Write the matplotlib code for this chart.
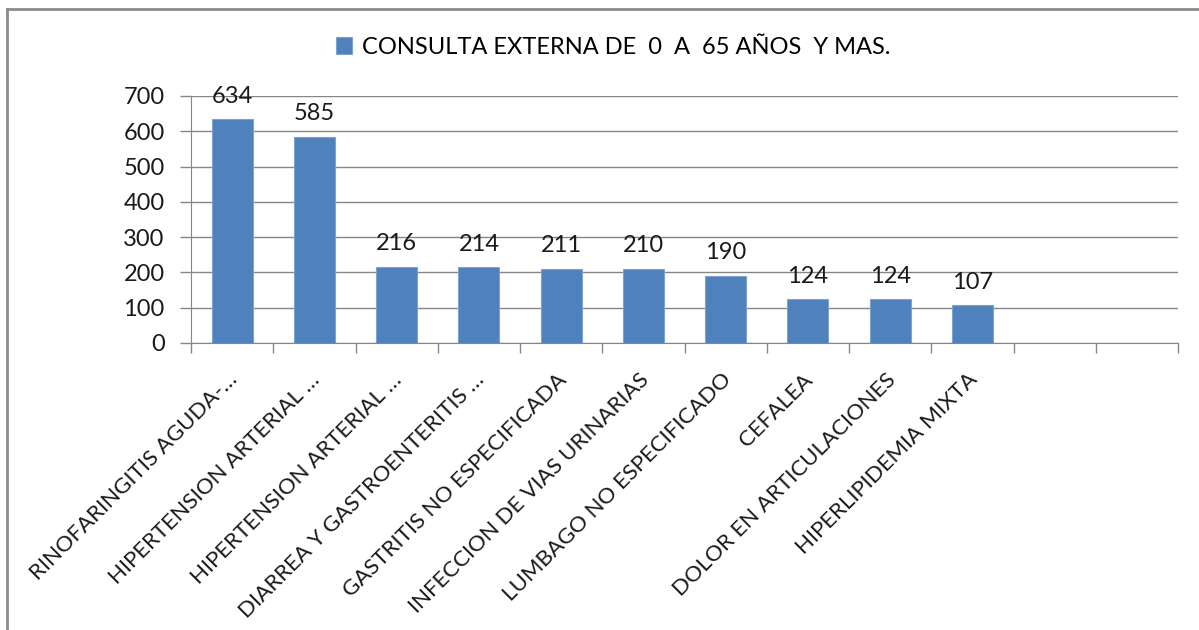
import numpy as np
import matplotlib
matplotlib.use("Agg")
import matplotlib.pyplot as plt
import matplotlib.transforms as mtransforms
from matplotlib.lines import Line2D

plt.rcParams['font.family'] = ['Lato', 'DejaVu Sans']

# datos
categorias = [
    "RINOFARINGITIS AGUDA-…",
    "HIPERTENSION ARTERIAL …",
    "HIPERTENSION ARTERIAL …",
    "DIARREA Y GASTROENTERITIS …",
    "GASTRITIS NO ESPECIFICADA",
    "INFECCION DE VIAS URINARIAS",
    "LUMBAGO NO ESPECIFICADO",
    "CEFALEA",
    "DOLOR EN ARTICULACIONES",
    "HIPERLIPIDEMIA MIXTA",
    "",
    "",
]
valores = [634, 585, 216, 214, 211, 210, 190, 124, 124, 107]
serie = "CONSULTA EXTERNA DE  0  A  65 AÑOS  Y MAS."
y_ticks = [0, 100, 200, 300, 400, 500, 600, 700]

azul = "#4F81BD"
gris = "#868686"
texto = "#1a1a1a"
fs = 17

fig = plt.figure(figsize=(11.99, 6.30), dpi=100)
ax = fig.add_axes([191 / 1199, 1 - 343 / 630, (1178 - 191) / 1199, (343 - 96) / 630])

x = np.arange(len(valores))
barras = ax.bar(x, valores, width=0.5, color=azul, edgecolor="#7ea3d0",
                linewidth=0.8, label=serie, zorder=3)

# etiquetas de datos
for xi, v in zip(x, valores):
    ax.annotate(str(v), (xi, v), xytext=(0, 9), textcoords="offset points",
                ha="center", va="bottom", fontsize=fs, color=texto)

ax.set_xlim(-0.5, len(categorias) - 0.5)
ax.set_ylim(0, 700)
ax.set_yticks(y_ticks)
ax.yaxis.grid(True, color=gris, linewidth=1.0, zorder=0)
ax.set_axisbelow(True)

# ticks del eje x en los límites de categoría
ax.set_xticks(np.arange(len(categorias) + 1) - 0.5)
ax.set_xticklabels([])
ax.set_xticks(np.arange(len(categorias)), minor=True)
ax.set_xticklabels(categorias, minor=True, rotation=45, ha="right",
                   rotation_mode="anchor", fontsize=16, color=texto)
ax.tick_params(axis="x", which="minor", length=0, pad=19)
ax.tick_params(axis="x", which="major", length=7, color=gris, width=1)
ax.tick_params(axis="y", length=8, color=gris, width=1, labelsize=fs,
               labelcolor=texto, pad=11)
# desplazar las etiquetas un poco a la izquierda
off = mtransforms.ScaledTranslation(-5 / 100, 0, fig.dpi_scale_trans)
for lbl in ax.get_xticklabels(minor=True):
    lbl.set_transform(lbl.get_transform() + off)

for s in ["top", "right"]:
    ax.spines[s].set_visible(False)
ax.spines["left"].set_color(gris)
ax.spines["bottom"].set_color(gris)

fig.legend(handles=[barras], labels=[serie], loc="center",
           bbox_to_anchor=(613 / 1199, 1 - 47 / 630), frameon=False,
           fontsize=fs, handlelength=0.7, handleheight=0.7, handletextpad=0.4)

# marco del gráfico
fig.add_artist(Line2D([7 / 1199, 1], [1 - 9 / 630, 1 - 9 / 630],
                      transform=fig.transFigure, color="#8c8c8c", linewidth=2))
fig.add_artist(Line2D([7 / 1199, 7 / 1199], [0, 1 - 9 / 630],
                      transform=fig.transFigure, color="#8c8c8c", linewidth=2))

fig.savefig("out.png", dpi=100)
